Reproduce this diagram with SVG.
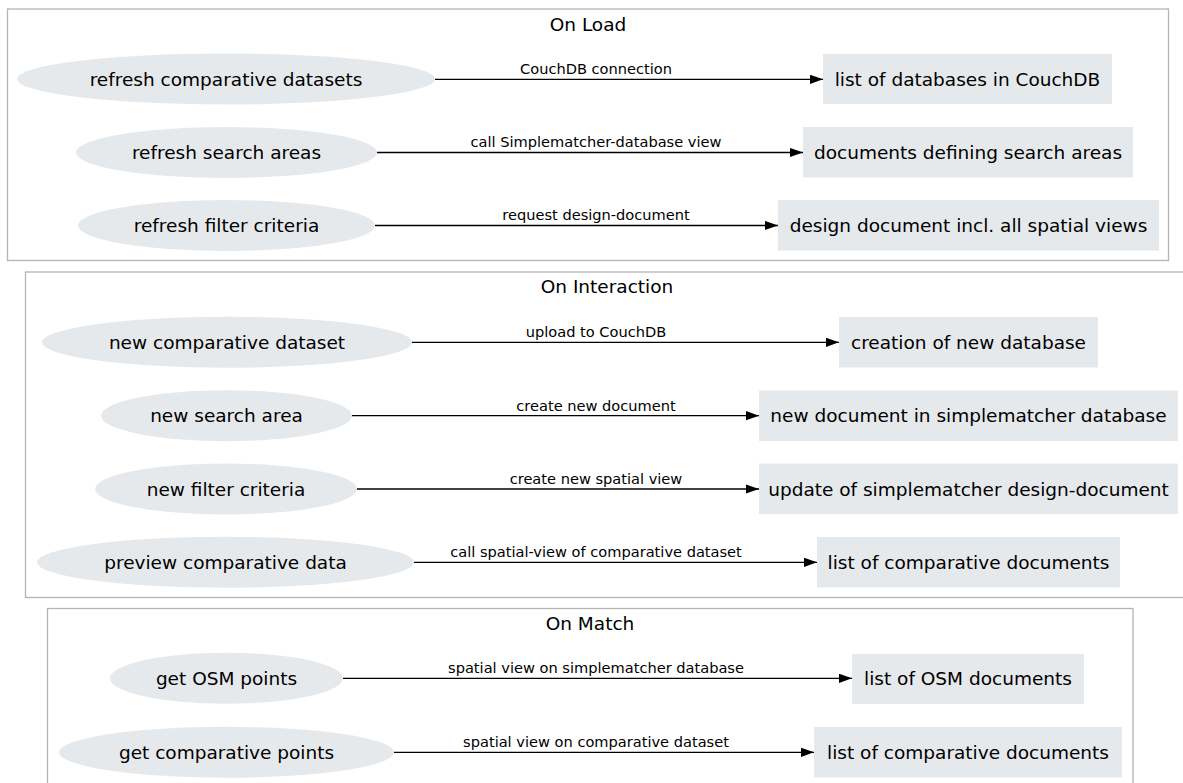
<svg xmlns="http://www.w3.org/2000/svg" width="1183" height="783" viewBox="0 0 1183 783">
<defs>
<marker id="arr" markerWidth="14" markerHeight="10" refX="13.3" refY="4.7" orient="auto" markerUnits="userSpaceOnUse">
<path d="M0,0 L13.3,4.7 L0,9.4 Z" fill="#000"/>
</marker>
</defs>
<style>
.cl{fill:#fff;stroke:#b4b4b4;stroke-width:1.3}
.ct{font-family:"DejaVu Sans",sans-serif;font-size:18.5px;fill:#000;text-anchor:middle}
.el,.bx{fill:#e6e9ec;stroke:none}
.nt{font-family:"DejaVu Sans",sans-serif;font-size:18.5px;fill:#000;text-anchor:middle}
.ed{stroke:#000;stroke-width:1.3;fill:none;marker-end:url(#arr)}
.lb{font-family:"DejaVu Sans",sans-serif;font-size:14.6px;fill:#000;text-anchor:middle}
</style>
<rect width="1183" height="783" fill="#fff"/>
<g id="cluster-load">
<rect class="cl" x="7.5" y="9" width="1161" height="251.5"/>
<text class="ct" x="588" y="31">On Load</text>
</g>
<g id="cluster-interaction">
<rect class="cl" x="25.5" y="272" width="1162" height="325.5"/>
<text class="ct" x="607" y="293">On Interaction</text>
</g>
<g id="cluster-match">
<rect class="cl" x="47.5" y="608.5" width="1085.5" height="190"/>
<text class="ct" x="590" y="630">On Match</text>
</g>

<g id="n1"><ellipse class="el" cx="226" cy="79" rx="209" ry="25.5"/><text class="nt" x="226" y="85.5">refresh comparative datasets</text></g>
<g id="n2"><ellipse class="el" cx="226.5" cy="152.5" rx="150.5" ry="25.5"/><text class="nt" x="226.5" y="159">refresh search areas</text></g>
<g id="n3"><ellipse class="el" cx="226.5" cy="225.5" rx="148.5" ry="25.5"/><text class="nt" x="226.5" y="232">refresh filter criteria</text></g>
<g id="b1"><rect class="bx" x="823" y="54" width="289" height="50"/><text class="nt" x="967.5" y="85.5">list of databases in CouchDB</text></g>
<g id="b2"><rect class="bx" x="803" y="127" width="330" height="50.5"/><text class="nt" x="968" y="159">documents defining search areas</text></g>
<g id="b3"><rect class="bx" x="778" y="200" width="381" height="50.5"/><text class="nt" x="968.5" y="232">design document incl. all spatial views</text></g>

<g id="n4"><ellipse class="el" cx="227" cy="342.3" rx="185" ry="25.5"/><text class="nt" x="227" y="348.8">new comparative dataset</text></g>
<g id="n5"><ellipse class="el" cx="226.5" cy="415.7" rx="125.5" ry="25.5"/><text class="nt" x="226.5" y="422.2">new search area</text></g>
<g id="n6"><ellipse class="el" cx="226" cy="489" rx="131" ry="25.5"/><text class="nt" x="226" y="495.5">new filter criteria</text></g>
<g id="n7"><ellipse class="el" cx="225.5" cy="562.3" rx="188.5" ry="25.5"/><text class="nt" x="225.5" y="568.8">preview comparative data</text></g>
<g id="b4"><rect class="bx" x="839" y="317" width="259" height="50.5"/><text class="nt" x="968.5" y="348.8">creation of new database</text></g>
<g id="b5"><rect class="bx" x="759" y="390.5" width="419" height="50.5"/><text class="nt" x="968.5" y="422.2">new document in simplematcher database</text></g>
<g id="b6"><rect class="bx" x="759" y="463.5" width="419" height="50.5"/><text class="nt" x="968.5" y="495.5">update of simplematcher design-document</text></g>
<g id="b7"><rect class="bx" x="817" y="537" width="303" height="50.5"/><text class="nt" x="968.5" y="568.8">list of comparative documents</text></g>

<g id="n8"><ellipse class="el" cx="226.5" cy="678.3" rx="116.5" ry="25.5"/><text class="nt" x="226.5" y="684.8">get OSM points</text></g>
<g id="n9"><ellipse class="el" cx="226.5" cy="752.3" rx="167.5" ry="25.5"/><text class="nt" x="226.5" y="758.8">get comparative points</text></g>
<g id="b8"><rect class="bx" x="852" y="654" width="232" height="50"/><text class="nt" x="968" y="684.8">list of OSM documents</text></g>
<g id="b9"><rect class="bx" x="814" y="727" width="308" height="50.5"/><text class="nt" x="968" y="758.8">list of comparative documents</text></g>

<g id="connectors">
<line class="ed" x1="435" y1="79.3" x2="823" y2="79.3"/>
<text class="lb" x="596" y="74">CouchDB connection</text>
<line class="ed" x1="377" y1="152.5" x2="803" y2="152.5"/>
<text class="lb" x="596" y="147">call Simplematcher-database view</text>
<line class="ed" x1="375" y1="225.5" x2="778" y2="225.5"/>
<text class="lb" x="596" y="220">request design-document</text>

<line class="ed" x1="412" y1="342.3" x2="839" y2="342.3"/>
<text class="lb" x="596" y="337">upload to CouchDB</text>
<line class="ed" x1="352" y1="415.7" x2="759" y2="415.7"/>
<text class="lb" x="596" y="410.5">create new document</text>
<line class="ed" x1="357" y1="489" x2="759" y2="489"/>
<text class="lb" x="596" y="483.5">create new spatial view</text>
<line class="ed" x1="414" y1="562.3" x2="817" y2="562.3"/>
<text class="lb" x="596" y="557">call spatial-view of comparative dataset</text>

<line class="ed" x1="343" y1="678.3" x2="852" y2="678.3"/>
<text class="lb" x="596" y="673">spatial view on simplematcher database</text>
<line class="ed" x1="394" y1="752.3" x2="814" y2="752.3"/>
<text class="lb" x="596" y="747">spatial view on comparative dataset</text>
</g>
</svg>
